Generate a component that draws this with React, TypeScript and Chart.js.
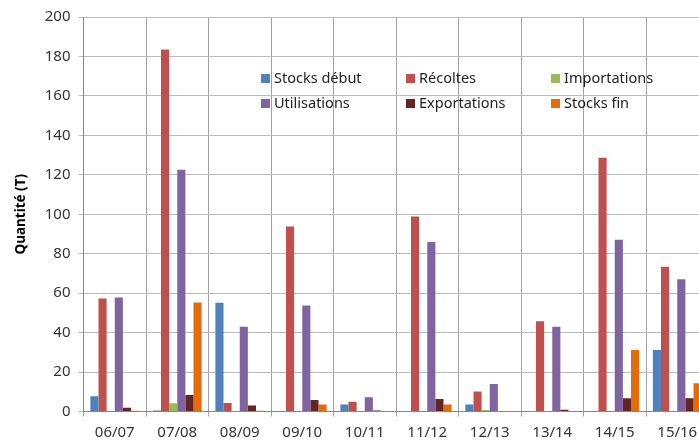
import React, { useEffect, useRef } from "react";
import { Chart, registerables } from "chart.js";

Chart.register(...registerables);

const categories = ["06/07", "07/08", "08/09", "09/10", "10/11", "11/12", "12/13", "13/14", "14/15", "15/16"];
const stocksDebut = [7.7, 0.5, 55.1, 0.3, 3.6, 0, 3.6, 0.3, 0, 31.2];
const recoltes = [57.3, 183.5, 4.3, 93.8, 5.0, 98.9, 10.2, 45.8, 128.7, 73.4];
const importations = [0, 4.2, 0, 0.3, 0.3, 0, 0.8, 0, 0.3, 0];
const utilisations = [57.8, 122.6, 43.0, 53.7, 7.2, 85.9, 14.0, 43.0, 87.1, 67.1];
const exportations = [1.9, 8.4, 3.1, 5.8, 0.5, 6.3, 0.3, 0.9, 6.7, 6.7];
const stocksFin = [0.4, 55.2, 0.4, 3.6, 0, 3.6, 0.3, 0, 31.2, 14.3];
const yTicks = [0, 20, 40, 60, 80, 100, 120, 140, 160, 180, 200];

const FONT = "'Noto Sans', 'Open Sans', sans-serif";

const gridLegend = {
  id: "gridLegend",
  afterDraw(chart: any) {
    const { ctx, chartArea } = chart;
    const opts = chart.options.plugins.gridLegend;
    ctx.save();
    ctx.font = `${opts.fontSize}px ${FONT}`;
    ctx.textBaseline = "middle";
    ctx.textAlign = "left";
    chart.data.datasets.forEach((ds: any, i: number) => {
      const col = i % 3;
      const row = Math.floor(i / 3);
      const x = chartArea.left + opts.x0 + col * opts.colW;
      const y = chartArea.top + opts.y0 + row * opts.rowH;
      ctx.fillStyle = ds.backgroundColor;
      ctx.fillRect(x, y - opts.box / 2, opts.box, opts.box);
      ctx.fillStyle = "#222";
      ctx.fillText(ds.label, x + opts.box + 4, y);
    });
    ctx.restore();
  },
};

export default function App() {
  const ref = useRef<HTMLCanvasElement | null>(null);
  useEffect(() => {
    if (!ref.current) return;
    const mk = (label: string, data: number[], color: string) => ({
      label,
      data,
      backgroundColor: color,
      borderWidth: 0,
      categoryPercentage: 0.78,
      barPercentage: 1.0,
    });
    const chart = new Chart(ref.current, {
      type: "bar",
      data: {
        labels: categories,
        datasets: [
          mk("Stocks début", stocksDebut, "#4F81BD"),
          mk("Récoltes", recoltes, "#C0504D"),
          mk("Importations", importations, "#9BBB59"),
          mk("Utilisations", utilisations, "#8064A2"),
          mk("Exportations", exportations, "#632523"),
          mk("Stocks fin", stocksFin, "#E46C0A"),
        ],
      },
      options: {
        animation: false,
        responsive: true,
        maintainAspectRatio: false,
        layout: { padding: { top: 17, right: 3.5, bottom: 0, left: 0 } },
        plugins: {
          legend: { display: false },
          tooltip: { enabled: false },
          gridLegend: { x0: 177.5, y0: 61.5, colW: 145, rowH: 25, box: 9, fontSize: 14.5 },
        } as any,
        scales: {
          x: {
            grid: { offset: true, color: "#A0A0A0", lineWidth: 1, tickLength: 5, drawTicks: true },
            border: { display: true, color: "#888888", width: 1 },
            ticks: { color: "#333", font: { family: FONT, size: 15 }, padding: 7, maxRotation: 0, autoSkip: false },
            afterFit: (s: any) => { s.height = 31.5; },
          },
          y: {
            min: 0,
            max: 200,
            afterBuildTicks: (s: any) => { s.ticks = yTicks.map((v) => ({ value: v })); },
            grid: { color: "#BBBBBB", lineWidth: 1, tickLength: 5 },
            border: { display: true, color: "#888888", width: 1 },
            ticks: { color: "#333", font: { family: FONT, size: 15 }, padding: 8 },
            title: {
              display: true,
              text: "Quantité (T)",
              color: "#000",
              font: { family: FONT, size: 13.5, weight: "bold" },
              padding: { top: 13, bottom: 0 },
            },
            afterFit: (s: any) => { s.width = 83.5; },
          },
        },
      },
      plugins: [gridLegend],
    });
    return () => chart.destroy();
  }, []);
  return (
    <div style={{ position: "fixed", left: 0, top: 0, width: 699, height: 443, overflow: "hidden", background: "#fff" }}>
      <div style={{ position: "relative", width: 712, height: 443 }}>
        <canvas ref={ref} />
      </div>
    </div>
  );
}
